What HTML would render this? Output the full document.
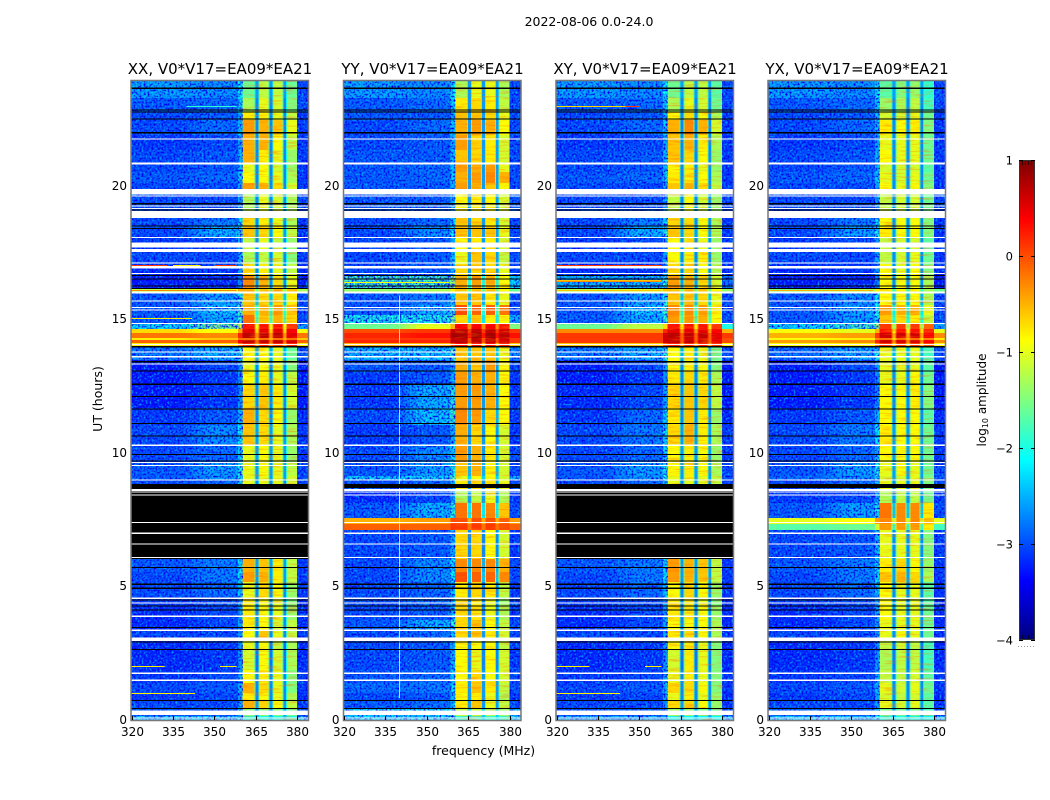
<!DOCTYPE html>
<html>
<head>
<meta charset="utf-8">
<title>2022-08-06 amplitude spectrogram</title>
<style>
html,body{margin:0;padding:0;background:#fff;width:1050px;height:800px;overflow:hidden}
svg{display:block}
text{font-family:"DejaVu Sans","Liberation Sans",sans-serif;fill:#000}
</style>
</head>
<body>
<svg id="chart" xmlns="http://www.w3.org/2000/svg" width="1050" height="800" viewBox="0 0 1050 800">
<defs>
<filter id="speckLight" x="0" y="0" width="1" height="1" color-interpolation-filters="sRGB">
<feTurbulence type="fractalNoise" baseFrequency="0.5" numOctaves="1" seed="4"/>
<feColorMatrix type="matrix" values="0 0 0 0 0  0 0 0 0 0.62  0 0 0 0 1  3.2 0 0 0 -1.45"/>
</filter>
<filter id="speckDark" x="0" y="0" width="1" height="1" color-interpolation-filters="sRGB">
<feTurbulence type="fractalNoise" baseFrequency="0.5" numOctaves="1" seed="11"/>
<feColorMatrix type="matrix" values="0 0 0 0 0  0 0 0 0 0  0 0 0 0 0.92  0 3.2 0 0 -1.4"/>
</filter>
<filter id="stripes" x="0" y="0" width="1" height="1" color-interpolation-filters="sRGB">
<feTurbulence type="fractalNoise" baseFrequency="0.06 0.55" numOctaves="2" seed="7"/>
<feColorMatrix type="matrix" values="0 0 0 0 1  0 0 0 0 0.45  0 0 0 0 0  3 0 0 0 -1.45"/>
</filter>
</defs>
</svg>
<script>
// Shared row edges in UT hours
const rowEdges = [0,.13,.4,.73,1,1.37,1.85,2.6,3,3.35,3.73,4.25,4.6,5.15,5.53,6.02,7.1,7.33,7.55,8.11,8.6,8.98,9.13,9.65,10.25,11.04,11.67,12.54,13.03,13.47,14,14.11,14.22,14.3,14.49,14.64,14.82,15.16,15.54,15.98,16.17,16.62,17.07,17.6,18.05,18.5,18.8,19.85,20.1,20.52,20.86,21.35,21.9,22.47,22.77,23.3,23.94];

// Frequency columns in MHz and the level each one reads from a row
const columnStart = [320,348,360.3,365,366,370,371,375,376,380];
const columnEnd = [338,360.3,365,366,370,371,375,376,380,384];
const columnLevel = [0,1,2,6,3,6,4,6,5,7];

// Row levels, log10 amplitude: left, middle, band1, band2, band3, band4, gap, right
const levelsXX = [
[-2.3,-2.3,-2,-2,-2,-2,-2.4,-2.3],[-2.9,-2.9,-1.5,-1.5,-1.5,-1.6,-2.6,-3],[-3,-3,-.5,-.7,-.9,-1.2,-2.6,-3.1],[-3.1,-3,-.8,-.9,-1,-1.3,-2.7,-3.2],
[-3,-2.9,-.5,-.7,-1,-1.5,-2.7,-3.1],[-3.1,-3,-.9,-.8,-1,-1.5,-2.7,-3.1],[-3.2,-3.1,-1.1,-.9,-1.1,-1.3,-2.8,-3.2],[-3.2,-3.1,-1,-.9,-1.2,-1.3,-2.8,-3.2],
[-3,-3,-.9,-.6,-1,-1.2,-2.7,-3.1],[-3.2,-3,-.8,-.9,-1.1,-1.2,-2.7,-3.2],[-3.2,-3,-.8,-.9,-1,-1.4,-2.7,-3.2],[-3.1,-3,-.8,-.9,-1,-1.5,-2.7,-3.2],
[-3,-2.8,-1,-.7,-.9,-1.4,-2.7,-3.1],[-3,-2.7,-.4,-.5,-.8,-1.2,-2.6,-3.1],[-2.9,-2.7,-.5,-.6,-.8,-1.2,-2.6,-3.1],[-3.1,-3,-1,-1,-1,-1.2,-2.7,-3.1],
[-3.1,-3,-1,-1,-1,-1.2,-2.7,-3.1],[-3.1,-3,-1,-1,-1,-1.2,-2.7,-3.1],[-3.1,-3,-1,-1,-1,-1.2,-2.7,-3.1],[-3.1,-3,-1,-1,-1,-1.2,-2.7,-3.1],
[-3,-2.8,-1,-1,-1,-1.1,-2.7,-3],[-2.9,-2.6,-1,-1,-1,-1.1,-2.6,-3],[-2.9,-2.5,-1,-.9,-1,-1.2,-2.6,-3],[-3,-2.8,-1,-.9,-1,-1.4,-2.6,-3.1],
[-3,-2.6,-.6,-.7,-1,-1.3,-2.6,-3.1],[-3.1,-2.9,-.5,-.7,-.9,-1.4,-2.7,-3.2],[-3.3,-3.1,-.7,-.6,-.8,-1.1,-2.7,-3.3],[-3.3,-3.1,-.9,-.8,-1,-1.2,-2.7,-3.3],
[-3.3,-3,-1,-.9,-1,-1.5,-2.7,-3.3],[-2.7,-2.4,-.9,-.9,-1,-1.6,-2.5,-3],[-.8,-.7,.2,.2,.2,.2,-.5,-.8],[-.1,-.1,.7,.7,.7,.6,-.2,-.1],
[-.8,-.6,-.2,-.2,-.2,-.2,-.5,-.6],[-.2,-.3,.7,.7,.7,.5,-.4,-.2],[-.7,-.9,.5,.5,.5,.4,-.7,-.9],[-2.2,-1.5,.3,.3,.3,.1,-1,-2.5],
[-2.9,-2.4,-.2,-.6,-.5,-.7,-1.8,-3],[-2.9,-2.3,-.5,-.5,-.4,-.6,-2,-3],[-2.9,-2.5,-.6,-.7,-.7,-.8,-2.4,-3],[-1.2,-1,-.5,-.6,-.5,-.6,-1.5,-1.3],
[-3.3,-3.2,-.3,-.5,-.7,-1,-2.7,-3.3],[-3.2,-3.1,-.7,-.8,-1,-1.2,-2.7,-3.2],[-3,-3,-1.3,-1.2,-1.1,-1.5,-2.7,-3.1],[-3.1,-3,-1.2,-1,-1.2,-1.4,-2.7,-3.1],
[-3,-2.4,-.6,-.7,-.9,-1.2,-2.6,-3.1],[-3,-2.7,-.7,-.8,-1,-1.3,-2.7,-3.1],[-3,-3,-1.3,-1,-1.1,-1.3,-2.7,-3],[-3,-3,-.4,-.5,-.7,-1.1,-2.7,-3.1],
[-2.9,-2.8,-.9,-.9,-1,-1.3,-2.7,-3.1],[-3,-2.9,-1,-.9,-1.1,-1.4,-2.7,-3.1],[-3,-2.9,-.5,-.8,-1,-1.4,-2.7,-3.1],[-3.1,-3,-.5,-.5,-.9,-1.2,-2.7,-3.1],
[-3,-2.8,-.4,-.5,-.6,-1,-2.7,-3.1],[-3,-2.9,-.8,-.8,-1,-1.2,-2.7,-3.1],[-2.9,-2.8,-1.3,-1,-1.1,-1.5,-2.7,-3],[-2.5,-2.6,-1.6,-1.2,-1.2,-1.6,-2.6,-3]
];
const levelsYY = [
[-2.2,-2.2,-1.9,-1.9,-1.9,-1.9,-2.3,-2.2],[-2.2,-2.2,-1.2,-1.2,-1.3,-1.4,-2.3,-2.4],[-2.9,-2.8,-.8,-.6,-1,-1.2,-2.6,-3],[-3,-2.9,-.9,-.8,-1,-1.3,-2.6,-3.1],
[-2.8,-2.7,-.8,-.6,-.8,-1.2,-2.6,-3],[-2.9,-2.8,-.9,-.7,-.9,-1.1,-2.6,-3],[-3,-2.9,-.9,-1,-.9,-1.1,-2.7,-3.1],[-3,-2.9,-.9,-.9,-.9,-1.2,-2.7,-3.1],
[-3,-2.8,-.7,-.6,-.8,-1.1,-2.6,-3],[-2.9,-2.4,-.7,-.6,-.9,-1.2,-2.6,-3],[-3,-2.9,-.7,-.8,-1,-1.3,-2.7,-3.1],[-3,-2.8,-.7,-.8,-1,-1.4,-2.7,-3.1],
[-3,-2.8,-.8,-.7,-.8,-1.2,-2.7,-3.1],[-3,-2.6,0,-.1,-.1,-.3,-2.4,-3],[-3,-2.6,-.3,-.3,-.3,-.5,-2.5,-3],[-3,-2.9,-.7,-.7,-.9,-1.1,-2.7,-3.1],
[-.1,-.1,.1,.1,.1,0,-.2,-.1],[-.5,-.4,0,0,0,-.1,-.5,-.4],[-2.9,-2.4,-.2,-.2,-.3,-.6,-2.2,-3],[-3.2,-3,-1.3,-1.2,-1,-1.3,-2.6,-3.1],
[-3,-2.8,-.8,-.7,-.8,-1,-2.6,-3],[-2.3,-2.2,-1,-.9,-.9,-1.1,-2.3,-2.4],[-2.9,-2.5,-.6,-.5,-.9,-1.1,-2.5,-3],[-3,-2.6,-.4,-.5,-.8,-1.1,-2.6,-3],
[-3.1,-2.9,-.5,-.7,-.9,-1.1,-2.6,-3.1],[-3,-2.3,-.3,-.4,-.7,-.9,-2.5,-3.1],[-3.1,-2.4,-.4,-.4,-.5,-.9,-2.6,-3.1],[-3.1,-2.9,-.4,-.5,-.5,-.9,-2.6,-3.1],
[-2.9,-2.9,-.5,-.6,-.4,-.9,-2.6,-3],[-2.4,-2.3,-.6,-.6,-.6,-1,-2.4,-2.6],[-.5,-.5,.3,.3,.3,.2,-.6,-.6],[.2,.2,.7,.7,.7,.6,0,.1],
[.1,.1,.7,.7,.7,.6,0,.1],[.2,.3,.8,.8,.8,.7,.3,.3],[0,.1,.7,.7,.7,.6,.1,.1],[-1.6,-1,.4,.4,.4,.3,-.3,-1.5],
[-2,-2,-.7,-.6,-.8,-.9,-2.2,-2.4],[-2.9,-2.4,0,-.1,-.1,-.2,-2,-3],[-2.9,-2.7,-.6,-.6,-.8,-1,-2.5,-3],[-1.4,-1.3,-.7,-.6,-.7,-.9,-1.6,-1.6],
[-1.8,-1.8,-.5,-.4,-.5,-.9,-2,-2.2],[-3,-2.9,-.7,-.7,-.7,-1,-2.6,-3],[-3,-2.9,-1,-.6,-.7,-1.2,-2.6,-3],[-3,-2.9,-.9,-.8,-.8,-1.1,-2.6,-3],
[-3,-2.6,-.6,-.6,-.6,-1,-2.6,-3],[-3,-2.8,-.6,-.7,-.8,-1.1,-2.6,-3],[-2.9,-2.9,-.9,-.8,-.9,-1.1,-2.6,-2.9],[-2.9,-2.9,-.4,-.5,-.6,-.9,-2.6,-3],
[-2.9,-2.8,-.5,-.4,-.3,-.5,-2.6,-3],[-2.9,-2.8,-.4,-.5,-.4,-1,-2.6,-3],[-2.9,-2.9,-.6,-.7,-.8,-1.1,-2.6,-3],[-3,-2.9,-.4,-.7,-.8,-1.1,-2.6,-3],
[-3,-2.8,-.5,-.4,-.5,-.9,-2.6,-3],[-2.9,-2.9,-.6,-.6,-.7,-1,-2.6,-3],[-2.9,-2.8,-.8,-.7,-.8,-1.2,-2.6,-3],[-2.5,-2.6,-1.3,-1,-1,-1.3,-2.6,-3]
];
const levelsXY = [
[-2.4,-2.4,-2.1,-2.1,-2.1,-2.1,-2.5,-2.4],[-2.9,-2.9,-1.4,-1.4,-1.5,-1.7,-2.6,-3],[-3,-3,-.7,-.7,-.9,-1.4,-2.6,-3.1],[-3.1,-3,-1,-.8,-1,-1.4,-2.7,-3.2],
[-3,-2.9,-.7,-.7,-.9,-1.5,-2.7,-3.1],[-3.1,-3,-1,-.8,-1,-1.5,-2.7,-3.1],[-3.2,-3.1,-1.1,-.8,-1,-1.5,-2.8,-3.2],[-3.2,-3.1,-.9,-.8,-1,-1.5,-2.8,-3.2],
[-3,-3,-.8,-.7,-.9,-1.3,-2.7,-3.1],[-3.2,-3,-.9,-.9,-.9,-1.3,-2.7,-3.2],[-3.2,-3,-.8,-.8,-.9,-1.4,-2.7,-3.2],[-3.1,-3,-.8,-.8,-1,-1.5,-2.7,-3.2],
[-3,-2.8,-.9,-.7,-.9,-1.4,-2.7,-3.1],[-3,-2.7,-.4,-.5,-.6,-1.2,-2.6,-3.1],[-2.9,-2.7,-.4,-.5,-.6,-1.2,-2.6,-3.1],[-3.1,-3,-1,-1,-1,-1.3,-2.7,-3.1],
[-3.1,-3,-1,-1,-1,-1.3,-2.7,-3.1],[-3.1,-3,-1,-1,-1,-1.3,-2.7,-3.1],[-3.1,-3,-1,-1,-1,-1.3,-2.7,-3.1],[-3.1,-3,-1,-1,-1,-1.3,-2.7,-3.1],
[-3,-2.8,-1,-1,-1,-1.2,-2.7,-3],[-2.9,-2.6,-1,-.9,-1,-1.2,-2.6,-3],[-2.9,-2.5,-.9,-.8,-.9,-1.3,-2.6,-3],[-3,-2.8,-.9,-.8,-.9,-1.4,-2.6,-3.1],
[-3,-2.7,-.7,-.5,-.8,-1.3,-2.6,-3.1],[-3.1,-2.8,-.8,-.6,-.8,-1.4,-2.7,-3.2],[-3.2,-3,-.7,-.6,-.7,-1.2,-2.7,-3.3],[-3.3,-3.1,-.8,-.7,-.8,-1.3,-2.7,-3.3],
[-3.3,-3,-.9,-.8,-.9,-1.5,-2.7,-3.3],[-2.7,-2.4,-.9,-.8,-1,-1.6,-2.5,-3],[-.6,-.6,.2,.2,.2,.1,-.5,-.8],[.1,.1,.7,.7,.7,.5,-.1,0],
[.1,.1,.6,.6,.6,.5,-.1,0],[.1,.1,.7,.7,.7,.5,-.1,.1],[-.3,-.3,.5,.5,.5,.4,-.4,-.5],[-1.6,-1.2,.3,.3,.3,.1,-.8,-2],
[-2.9,-2.4,-.4,-.4,-.5,-.9,-1.8,-3],[-2.9,-2.3,-.3,-.3,-.4,-.8,-2,-3],[-2.9,-2.5,-.6,-.6,-.7,-1,-2.4,-3],[-1.3,-1.1,-.6,-.6,-.6,-.9,-1.6,-1.4],
[-2.4,-2.4,-.4,-.5,-.7,-1.1,-2.6,-2.8],[-3.2,-3.1,-.7,-.7,-.9,-1.3,-2.7,-3.2],[-3,-3,-.9,-.8,-.8,-1.4,-2.7,-3.1],[-3.1,-3,-.9,-.9,-1,-1.4,-2.7,-3.1],
[-3,-2.4,-.6,-.7,-.9,-1.3,-2.6,-3.1],[-3,-2.7,-.7,-.7,-.9,-1.3,-2.7,-3.1],[-3,-3,-1.2,-.9,-1.1,-1.4,-2.7,-3],[-3,-3,-.6,-.5,-.7,-1.2,-2.7,-3.1],
[-2.9,-2.8,-.8,-.8,-.9,-1.3,-2.7,-3.1],[-3,-2.9,-.9,-.8,-1,-1.4,-2.7,-3.1],[-3,-2.9,-.6,-.7,-.9,-1.4,-2.7,-3.1],[-3.1,-3,-.6,-.5,-.8,-1.3,-2.7,-3.1],
[-3,-2.8,-.5,-.3,-.5,-1.1,-2.7,-3.1],[-3,-2.9,-.9,-.7,-.9,-1.3,-2.7,-3.1],[-2.9,-2.8,-1.3,-1,-1.1,-1.6,-2.7,-3],[-2.5,-2.6,-1.6,-1.2,-1.2,-1.7,-2.6,-3]
];
const levelsYX = [
[-2.3,-2.3,-2,-2,-2,-2.1,-2.4,-2.3],[-2.8,-2.8,-1.6,-1.6,-1.6,-1.8,-2.6,-3],[-3,-3,-1,-1.1,-1,-1.7,-2.6,-3.1],[-3.1,-3,-1.1,-1.2,-1.1,-1.7,-2.7,-3.2],
[-3,-2.9,-1,-1.1,-1,-1.6,-2.7,-3.1],[-3.1,-3,-1.2,-1.2,-1.1,-1.7,-2.7,-3.1],[-3.2,-3.1,-1.3,-1.2,-1.2,-1.8,-2.8,-3.2],[-3.2,-3.1,-1.2,-1.1,-1.2,-1.8,-2.8,-3.2],
[-3,-3,-1,-.9,-1,-1.6,-2.7,-3.1],[-3.2,-3,-1,-1,-1,-1.6,-2.7,-3.2],[-3.2,-3,-.9,-1,-1,-1.6,-2.7,-3.2],[-3.1,-3,-.9,-1,-1,-1.7,-2.7,-3.2],
[-3,-2.8,-.9,-1,-1,-1.7,-2.7,-3.1],[-3,-2.7,-.6,-.5,-.7,-1.3,-2.6,-3.1],[-2.9,-2.7,-.8,-.7,-.9,-1.4,-2.6,-3.1],[-3,-2.9,-1,-1,-1,-1.5,-2.7,-3.1],
[-1.7,-1.6,-.4,-.4,-.4,-.8,-1.9,-1.8],[-1,-.9,-.3,-.3,-.3,-.6,-1.2,-1],[-2.9,-2.5,-.2,-.3,-.3,-.8,-2.4,-3],[-3.1,-3,-1.3,-1.2,-1.2,-1.6,-2.7,-3.1],
[-3,-2.8,-1,-1,-1,-1.5,-2.7,-3],[-2.8,-2.6,-1.1,-1.1,-1,-1.5,-2.6,-2.9],[-2.9,-2.5,-1,-.9,-1,-1.6,-2.6,-3],[-3,-2.8,-.9,-.9,-.9,-1.6,-2.6,-3.1],
[-3,-2.7,-.8,-.9,-.9,-1.6,-2.6,-3.1],[-3.1,-2.9,-.9,-.9,-.9,-1.7,-2.7,-3.2],[-3.3,-3.1,-.9,-.9,-.8,-1.5,-2.7,-3.3],[-3.3,-3.1,-1,-1,-.9,-1.6,-2.7,-3.3],
[-3.3,-3,-1,-1,-1,-1.7,-2.7,-3.3],[-2.8,-2.5,-1,-1,-1,-1.8,-2.5,-3],[-.9,-.8,.1,.1,.1,0,-.7,-.9],[-.4,-.3,.6,.6,.6,.4,-.3,-.3],
[-.9,-.8,-.2,-.2,-.2,-.3,-.7,-.8],[-.5,-.4,.6,.6,.6,.4,-.5,-.3],[-.9,-1,.3,.3,.3,.2,-.8,-1],[-2.2,-1.8,.1,.1,.1,-.1,-1.4,-2.5],
[-2.9,-2.5,-.6,-.7,-.8,-1.2,-2,-3],[-2.9,-2.5,-.4,-.5,-.5,-1,-2.2,-3],[-2.9,-2.6,-.9,-.9,-.9,-1.3,-2.5,-3],[-1.5,-1.3,-.8,-.9,-.9,-1.3,-1.8,-1.6],
[-3.3,-3.2,-.9,-.9,-.9,-1.3,-2.7,-3.3],[-3.2,-3.1,-.9,-1,-.9,-1.5,-2.7,-3.2],[-3,-3,-1.2,-1.1,-1,-1.6,-2.7,-3.1],[-3.1,-3,-1.2,-1.1,-1.1,-1.7,-2.7,-3.1],
[-3,-2.5,-.8,-.9,-.9,-1.5,-2.6,-3.1],[-3,-2.7,-.9,-.9,-.9,-1.5,-2.7,-3.1],[-3,-3,-1.2,-1.1,-1.1,-1.6,-2.7,-3],[-3,-3,-.9,-1,-.9,-1.5,-2.7,-3.1],
[-2.9,-2.8,-1,-1.1,-1,-1.6,-2.7,-3.1],[-3,-2.9,-1.1,-1.1,-1.1,-1.7,-2.7,-3.1],[-3,-2.9,-.9,-1,-1,-1.6,-2.7,-3.1],[-3.1,-3,-1,-1,-1,-1.6,-2.7,-3.1],
[-3,-2.8,-.8,-.9,-.8,-1.5,-2.7,-3.1],[-3,-2.9,-1.1,-1.1,-1,-1.6,-2.7,-3.1],[-2.9,-2.8,-1.4,-1.3,-1.2,-1.8,-2.7,-3],[-2.5,-2.6,-1.7,-1.5,-1.4,-1.9,-2.6,-3]
];

// Flagged (no data) time ranges in hours
const whiteFlagStart = [.03,.17,1.44,1.71,2.94,3.32,3.85,4.34,4.52,6.06,6.55,6.96,7.37,8.4,8.5,8.56,8.95,9.5,9.63,10.26,13.31,13.56,13.75,14.03,14.83,15.33,15.43,15.67,15.97,16.69,16.9,16.95,17.09,17.52,17.7,18.04,18.8,19.13,19.22,19.6,19.68,20.8,21.73];
const whiteFlagEnd = [.08,.33,1.49,1.76,3.08,3.37,3.89,4.38,4.57,6.1,6.59,7,7.41,8.43,8.54,8.64,8.99,9.54,9.66,10.3,13.35,13.63,13.79,14.07,14.87,15.37,15.47,15.71,16.04,16.73,16.94,16.99,17.13,17.63,17.87,18.08,19.05,19.17,19.26,19.64,19.88,20.88,21.77];
const blackFlagStart = [.4,.7,2.62,2.9,3.43,4.09,4.24,4.46,4.9,5.05,5.67,8.68,9.67,9.92,10.61,11.08,11.61,12.08,12.54,13.04,13.39,13.95,16.13,16.23,16.49,16.63,18.38,18.48,19.08,19.31,21.97,22.49,22.75,22.83,23.64];
const blackFlagEnd = [.44,.74,2.65,2.93,3.46,4.12,4.27,4.5,4.94,5.09,5.71,8.82,9.71,9.96,10.65,11.12,11.65,12.12,12.59,13.09,13.43,13.99,16.17,16.27,16.53,16.66,18.42,18.52,19.11,19.35,22.02,22.53,22.79,22.87,23.68];

// Panels and the outage block present only in XX and XY
const panelNames = ["XX","YY","XY","YX"];
const panelLevels = [levelsXX,levelsYY,levelsXY,levelsYX];
const outageStart = [6.02,null,6.02,null];
const outageEnd = [8.68,null,8.68,null];

// Narrow interference lines: hour, start MHz, end MHz, level, panel index
const rfiHour = [1,1.99,1.99,1,1.99,1.99,17.03,17.03,17.03,15.05,16.08,22.98,22.98,16.08,16.08,16.4,17.03,16.43,16.47,22.98];
const rfiStart = [320,320,352,320,320,352,320,335,350,320,320,320,340,320,320,320,320,320,320,345];
const rfiEnd = [343,332,358,343,332,358,333,345,358,342,358,350,358,358,358,358,358,358,358,350];
const rfiLevel = [-.8,-.8,-.8,-.8,-.8,-.8,.1,-.8,.1,-.8,-.3,-.7,-1.9,-.6,-.5,-.9,.1,-.3,-.6,.1];
const rfiPanel = [0,0,0,2,2,2,0,0,0,0,0,2,0,2,3,1,2,2,2,2];

// Vertical interference channel seen in YY only
const channelFreq = [339.8];
const channelFrom = [.8];
const channelTo = [15.9];
const channelLevel = [-1.3];

// Axis tick labels
const freqTicks = [320,335,350,365,380];
const hourTicks = [0,5,10,15,20];
const colorTicks = [1,0,-1,-2,-3,-4];

const NS = "http://www.w3.org/2000/svg";
const svg = document.getElementById("chart");
const panelLeft = [131.5,344,556.5,768.5];
const panelWidth = 176.5;
const plotTop = 81;
const plotBottom = 720;

function hourY(t){return 719.5 - t*26.68;}
function freqX(i,f){return panelLeft[i] + (f-320)*2.76;}
function colorY(v){return 640 - (v+4)*96;}
function clip01(v){return Math.max(0,Math.min(1,v));}
function jet(v){
  const x = clip01((v+4)/5);
  const r = clip01(1.5-Math.abs(4*x-3));
  const g = clip01(1.5-Math.abs(4*x-2));
  const b = clip01(1.5-Math.abs(4*x-1));
  return "rgb("+Math.round(r*255)+","+Math.round(g*255)+","+Math.round(b*255)+")";
}
function mk(tag,parent,attrs){
  const el = document.createElementNS(NS,tag);
  for(const k in attrs){el.setAttribute(k,attrs[k]);}
  parent.appendChild(el);
  return el;
}
function band(parent,x,y,w,h,fill){
  return mk("rect",parent,{x:x,y:y,width:w,height:h,fill:fill,"shape-rendering":"crispEdges"});
}

const figTitle = mk("text",svg,{x:589,y:26,"font-size":12.5,"text-anchor":"middle"});


figTitle.textContent = "2022-08-06 0.0-24.0";

panelNames.forEach(function(name,i){
  const levels = panelLevels[i];
  const L = panelLeft[i];
  const group = mk("g",svg,{});
  
  

  const title = mk("text",group,{x:L+88.5,y:74,"font-size":15,"text-anchor":"middle"});
  
  
  title.textContent = name+", V0*V17=EA09*EA21";

  const cp = mk("clipPath",group,{id:"clip"+i});
  
  
  const cpRect = mk("rect",cp,{x:L,y:plotTop,width:panelWidth,height:plotBottom-plotTop});
  
  

  const noiseClip = mk("clipPath",group,{id:"noise"+i});
  
  

  const heat = mk("g",group,{"clip-path":"url(#clip"+i+")"});
  
  

  levels.forEach(function(row,r){
    const y0 = hourY(rowEdges[r+1]);
    const y1 = hourY(rowEdges[r]);
    columnStart.forEach(function(f,c){
      const x0 = freqX(i,f);
      const x1 = freqX(i,columnEnd[c]);
      const cell = band(heat,x0,y0,x1-x0,y1-y0,jet(row[columnLevel[c]]));
      
      
    });
    for(let s=0;s<5;s++){
      const a = (s+.5)/5;
      const blend = band(heat,freqX(i,338+2*s),y0,5.6,y1-y0,jet(row[0]+(row[1]-row[0])*a));
      
      
    }
    const haze = band(heat,freqX(i,358.6),y0,freqX(i,360.3)-freqX(i,358.6),y1-y0,jet(Math.min(row[1]+.5,row[2])));
    
    
    [[365,2,6],[366,3,6],[370,3,6],[371,4,6],[375,4,6],[376,5,6]].forEach(function(e,k){
      const ex = k%2===0 ? freqX(i,e[0])-1 : freqX(i,e[0]);
      const edge = band(heat,ex,y0,1,y1-y0,jet((row[e[1]]+row[e[2]])/2));
      
      
    });
    if(row[0]<-1.7){
      const q = mk("rect",noiseClip,{x:L,y:y0,width:panelWidth,height:y1-y0});
      
      
    }
  });

  const noiseGroup = mk("g",heat,{"clip-path":"url(#noise"+i+")"});
  
  
  const lightL = mk("rect",noiseGroup,{x:L,y:plotTop,width:freqX(i,360.3)-L,height:plotBottom-plotTop,filter:"url(#speckLight)"});
  
  
  const darkL = mk("rect",noiseGroup,{x:L,y:plotTop,width:freqX(i,360.3)-L,height:plotBottom-plotTop,filter:"url(#speckDark)"});
  
  
  const lightR = mk("rect",noiseGroup,{x:freqX(i,380),y:plotTop,width:L+panelWidth-freqX(i,380),height:plotBottom-plotTop,filter:"url(#speckLight)"});
  
  
  const darkR = mk("rect",noiseGroup,{x:freqX(i,380),y:plotTop,width:L+panelWidth-freqX(i,380),height:plotBottom-plotTop,filter:"url(#speckDark)"});
  
  
  const stripe = mk("rect",heat,{x:freqX(i,360.3),y:plotTop,width:freqX(i,380)-freqX(i,360.3),height:plotBottom-plotTop,filter:"url(#stripes)",opacity:.45});
  
  

  if(name==="YY"){
    channelFreq.forEach(function(f,c){
      const line = band(heat,Math.round(freqX(i,f)),hourY(channelTo[c]),1,hourY(channelFrom[c])-hourY(channelTo[c]),jet(channelLevel[c]));
      
      
    });
  }
  rfiHour.forEach(function(h,k){
    if(rfiPanel[k]!==i){return;}
    const line = band(heat,freqX(i,rfiStart[k]),Math.round(hourY(h)),(rfiEnd[k]-rfiStart[k])*2.76,1,jet(rfiLevel[k]));
    
    
  });

  if(outageStart[i]!==null){
    const block = band(heat,L,hourY(outageEnd[i]),panelWidth,hourY(outageStart[i])-hourY(outageEnd[i]),"#000");
    
    
  }
  blackFlagStart.forEach(function(t,k){
    const y = hourY(blackFlagEnd[k]);
    const flag = band(heat,L,y,panelWidth,Math.max(1,hourY(t)-y),"#000");
    
    
  });
  whiteFlagStart.forEach(function(t,k){
    const y = hourY(whiteFlagEnd[k]);
    const flag = band(heat,L,y,panelWidth,Math.max(1,hourY(t)-y),"#fff");
    
    
  });

  const frame = mk("rect",group,{x:L-.5,y:plotTop-.5,width:panelWidth+1,height:plotBottom-plotTop+1,fill:"none",stroke:"#777","stroke-width":1.5});
  
  

  freqTicks.forEach(function(f){
    const x = Math.round(freqX(i,f))+.5;
    const tb = mk("line",group,{x1:x,x2:x,y1:plotBottom,y2:plotBottom-4,stroke:"#000","stroke-width":1});
    
    
    const lab = mk("text",group,{x:x,y:736,"font-size":12,"text-anchor":"middle"});
    
    
    lab.textContent = f;
  });
  hourTicks.forEach(function(h){
    const y = Math.round(hourY(h))-.5;
    const lab = mk("text",group,{x:L-4.5,y:y+4.5,"font-size":12,"text-anchor":"end"});
    
    
    lab.textContent = h;
  });
});

const xTitle = mk("text",svg,{x:483.5,y:755,"font-size":12.5,"text-anchor":"middle"});


xTitle.textContent = "frequency (MHz)";

const yTitle = mk("text",svg,{x:0,y:0,"font-size":12.5,"text-anchor":"middle",transform:"translate(102,399) rotate(-90)"});


yTitle.textContent = "UT (hours)";

const cbar = mk("g",svg,{});


for(let y=160;y<640;y+=2){
  const v = 1-(y+1-160)/96;
  const sw = band(cbar,1019,y,16,2,jet(v));
  
  
}
const cbarFrame = mk("rect",cbar,{x:1019.5,y:160.5,width:15,height:479,fill:"none",stroke:"#333","stroke-width":1});


for(let n=0;n<4;n++){
  const topMark = mk("line",cbar,{x1:1022.5+3*n,x2:1022.5+3*n,y1:161,y2:165,stroke:"#300","stroke-width":1});
  
  
  const botMark = mk("line",cbar,{x1:1022.5+3*n,x2:1022.5+3*n,y1:635,y2:639,stroke:"#003","stroke-width":1});
  
  
}
colorTicks.forEach(function(v){
  const y = Math.round(colorY(v))+.5;
  const t1 = mk("line",cbar,{x1:1019,x2:1023,y1:y,y2:y,stroke:"#000"});
  
  
  const t2 = mk("line",cbar,{x1:1031,x2:1035,y1:y,y2:y,stroke:"#000"});
  
  
  const lab = mk("text",cbar,{x:1013,y:y+4,"font-size":11.5,"text-anchor":"end"});
  
  
  lab.textContent = v<0 ? "\u2212"+Math.abs(v) : String(v);
});
const dots = mk("line",cbar,{x1:1018,x2:1035,y1:646.5,y2:646.5,stroke:"#999","stroke-width":1,"stroke-dasharray":"1 2"});



const cbTitle = mk("text",cbar,{x:0,y:0,"font-size":12,"text-anchor":"middle",transform:"translate(986,400) rotate(-90)"});


const t1 = mk("tspan",cbTitle,{});


t1.textContent = "log";
const t2 = mk("tspan",cbTitle,{"font-size":8,dy:2});


t2.textContent = "10";
const t3 = mk("tspan",cbTitle,{dy:-2});


t3.textContent = " amplitude";
</script>
</body>
</html>
